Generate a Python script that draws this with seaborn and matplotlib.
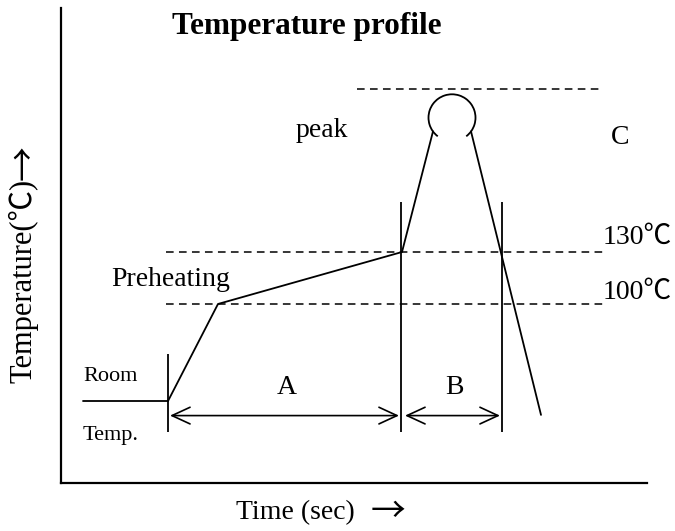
import seaborn as sns
import pandas as pd
import matplotlib.pyplot as plt
from matplotlib.patches import Arc

# schematic reflow profile (time in arbitrary units, temperature in °C-ish units)
profile_time = [168, 218, 402, 433]
profile_temp = [44, 100, 130, 199.6]
cooling_time = [471, 541]
cooling_temp = [199.6, 36]
room_time = [83, 168]
room_temp = [44, 44]
peak_center = (452, 207.5)

guide_levels = [224, 130, 100]
guide_start = [357, 166, 166]
guide_end = [603, 603, 603]

marker_times = [168, 401, 502]
marker_low = [26, 26, 26]
marker_high = [71, 159, 159]

span_labels = ["A", "B"]
span_start = [168, 403]
span_end = [401, 502]

SERIF = ["Liberation Serif", "Noto Sans CJK SC", "DejaVu Serif"]
ARROW = ["Noto Sans CJK JP", "DejaVu Sans"]

sns.set_style("white")
plt.rcParams["font.family"] = SERIF
plt.rcParams["text.color"] = "black"
plt.rcParams["axes.labelcolor"] = "black"

fig = plt.figure(figsize=(6.75, 5.31), dpi=100)
ax = fig.add_axes([61 / 675, 48 / 531, 586 / 675, 475 / 531])
ax.set_xlim(61, 647)
ax.set_ylim(-3.3, 270.8)

df = pd.DataFrame({"time": profile_time, "temp": profile_temp})
sns.lineplot(data=df, x="time", y="temp", sort=False, estimator=None,
             color="black", lw=1.3, ax=ax)
cool = pd.DataFrame({"time": cooling_time, "temp": cooling_temp})
sns.lineplot(data=cool, x="time", y="temp", sort=False, estimator=None,
             color="black", lw=1.3, ax=ax)
ax.plot(room_time, room_temp, color="black", lw=1.3)
ax.add_patch(Arc(peak_center, 47, 27, theta1=-37, theta2=217,
                 color="black", lw=1.3))

for lvl, x0, x1 in zip(guide_levels, guide_start, guide_end):
    ax.plot([x0, x1], [lvl, lvl], color="black", lw=1.1, ls=(0, (5, 3.5)))

ax.vlines(marker_times, marker_low, marker_high, color="black", lw=1.3)

for lab, x0, x1 in zip(span_labels, span_start, span_end):
    ax.annotate("", xy=(x1 - 2, 35.6), xytext=(x0 + 2, 35.6),
                arrowprops=dict(arrowstyle="<->,head_length=1.3,head_width=0.6",
                                color="black", lw=1.2, shrinkA=0, shrinkB=0))
    ax.text((x0 + x1) / 2 + 2, 52, lab, fontsize=20, ha="center", va="center")

ax.text(307, 260, "Temperature profile", fontsize=22.5, fontweight="bold",
        ha="center", va="center")
ax.text(322, 200, "peak", fontsize=20, ha="center", va="center")
ax.text(620, 196, "C", fontsize=20, ha="center", va="center")
ax.text(603, 138.5, "130℃", fontsize=20, fontweight="light", ha="left", va="center")
ax.text(603, 107, "100℃", fontsize=20, fontweight="light", ha="left", va="center")
ax.text(111, 114, "Preheating", fontsize=20, ha="left", va="center")
ax.text(83, 58, "Room", fontsize=16, ha="left", va="center")
ax.text(83, 24, "Temp.", fontsize=16, ha="left", va="center")

ax.set_xlabel("Time (sec)", fontsize=20)
ax.xaxis.set_label_coords((295 - 61) / 586, (483 - 500) / 475, transform=ax.transAxes)
ax.text(388, -20.5, "→", family=ARROW, fontsize=25, ha="center", va="center")

ax.set_ylabel("Temperature(℃)", fontsize=22, fontweight="light")
ax.yaxis.set_label_coords((39 - 61) / 586, (483 - 281) / 475, transform=ax.transAxes)
ax.text(25, 100 + (304 - 163) / 1.7333, "→", family=ARROW, fontsize=25,
        rotation=90, ha="center", va="center")

ax.set_xticks([])
ax.set_yticks([])
sns.despine(ax=ax)
for side in ["left", "bottom"]:
    ax.spines[side].set_linewidth(1.6)
    ax.spines[side].set_color("black")

fig.savefig("out.png", dpi=100)
